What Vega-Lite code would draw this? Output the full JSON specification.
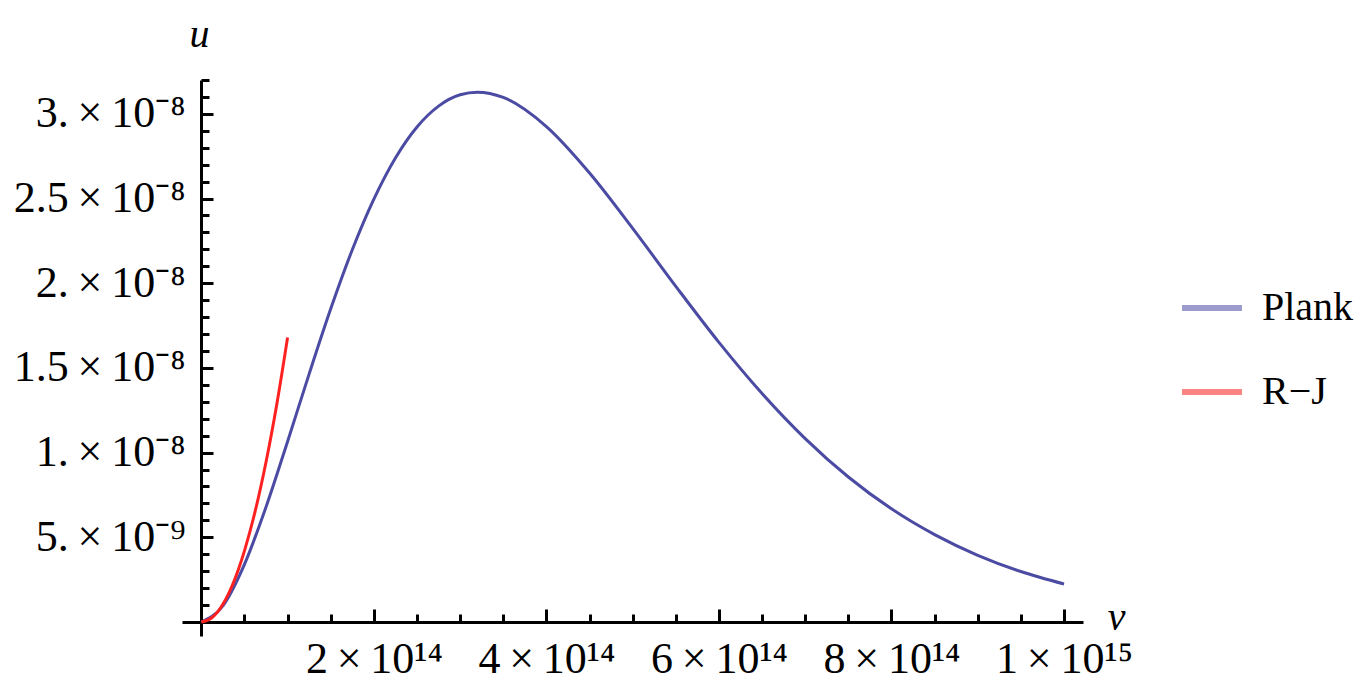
{
  "$schema": "https://vega.github.io/schema/vega-lite/v6.json",
  "autosize": {"type": "none"},
  "padding": {"left": 182, "top": 80, "right": 277, "bottom": 58},
  "width": 901,
  "height": 556,
  "config": {
    "view": {"stroke": null},
    "font": "Liberation Serif"
  },
  "data": {
    "values": [
      {"nu": 0, "u": 0, "series": "Plank"},
      {"nu": 0.25e14, "u": 9.55e-10, "series": "Plank"},
      {"nu": 0.5e14, "u": 3.40e-9, "series": "Plank"},
      {"nu": 0.75e14, "u": 6.79e-9, "series": "Plank"},
      {"nu": 1.0e14, "u": 1.066e-8, "series": "Plank"},
      {"nu": 1.25e14, "u": 1.465e-8, "series": "Plank"},
      {"nu": 1.5e14, "u": 1.849e-8, "series": "Plank"},
      {"nu": 1.75e14, "u": 2.198e-8, "series": "Plank"},
      {"nu": 2.0e14, "u": 2.497e-8, "series": "Plank"},
      {"nu": 2.25e14, "u": 2.740e-8, "series": "Plank"},
      {"nu": 2.5e14, "u": 2.923e-8, "series": "Plank"},
      {"nu": 2.75e14, "u": 3.046e-8, "series": "Plank"},
      {"nu": 3.0e14, "u": 3.113e-8, "series": "Plank"},
      {"nu": 3.2e14, "u": 3.128e-8, "series": "Plank"},
      {"nu": 3.5e14, "u": 3.097e-8, "series": "Plank"},
      {"nu": 4.0e14, "u": 2.925e-8, "series": "Plank"},
      {"nu": 4.5e14, "u": 2.651e-8, "series": "Plank"},
      {"nu": 5.0e14, "u": 2.324e-8, "series": "Plank"},
      {"nu": 5.5e14, "u": 1.982e-8, "series": "Plank"},
      {"nu": 6.0e14, "u": 1.651e-8, "series": "Plank"},
      {"nu": 6.5e14, "u": 1.349e-8, "series": "Plank"},
      {"nu": 7.0e14, "u": 1.083e-8, "series": "Plank"},
      {"nu": 7.5e14, "u": 8.56e-9, "series": "Plank"},
      {"nu": 8.0e14, "u": 6.68e-9, "series": "Plank"},
      {"nu": 8.5e14, "u": 5.16e-9, "series": "Plank"},
      {"nu": 9.0e14, "u": 3.94e-9, "series": "Plank"},
      {"nu": 9.5e14, "u": 2.98e-9, "series": "Plank"},
      {"nu": 1.0e15, "u": 2.24e-9, "series": "Plank"},
      {"nu": 0, "u": 0, "series": "R\u2212J"},
      {"nu": 0.125e14, "u": 2.64e-10, "series": "R\u2212J"},
      {"nu": 0.25e14, "u": 1.05e-9, "series": "R\u2212J"},
      {"nu": 0.375e14, "u": 2.36e-9, "series": "R\u2212J"},
      {"nu": 0.5e14, "u": 4.20e-9, "series": "R\u2212J"},
      {"nu": 0.625e14, "u": 6.56e-9, "series": "R\u2212J"},
      {"nu": 0.75e14, "u": 9.45e-9, "series": "R\u2212J"},
      {"nu": 0.875e14, "u": 1.286e-8, "series": "R\u2212J"},
      {"nu": 1.0e14, "u": 1.68e-8, "series": "R\u2212J"}
    ]
  },
  "mark": {"type": "line", "strokeWidth": 3, "interpolate": "monotone", "clip": true},
  "encoding": {
    "x": {
      "field": "nu", "type": "quantitative",
      "scale": {"domain": [-0.224e14, 10.22e14], "nice": false, "zero": false},
      "axis": {
        "orient": "bottom",
        "offset": -14,
        "grid": false,
        "values": [0.5e14, 1e14, 1.5e14, 2e14, 2.5e14, 3e14, 3.5e14, 4e14, 4.5e14, 5e14, 5.5e14, 6e14, 6.5e14, 7e14, 7.5e14, 8e14, 8.5e14, 9e14, 9.5e14, 1e15],
        "labelExpr": "abs(datum.value-2e14)<1e10 ? '2\u2009\u00d7\u200910\u00b9\u2074' : abs(datum.value-4e14)<1e10 ? '4\u2009\u00d7\u200910\u00b9\u2074' : abs(datum.value-6e14)<1e10 ? '6\u2009\u00d7\u200910\u00b9\u2074' : abs(datum.value-8e14)<1e10 ? '8\u2009\u00d7\u200910\u00b9\u2074' : abs(datum.value-1e15)<1e10 ? '1\u2009\u00d7\u200910\u00b9\u2075' : ''",
        "labelFont": "Liberation Serif",
        "labelFontSize": 44,
        "labelColor": "#000000",
        "labelPadding": 28,
        "labelOverlap": false,
        "labelFlush": false,
        "domainColor": "#000000",
        "domainWidth": 3,
        "tickColor": "#000000",
        "tickWidth": 3,
        "tickSize": {"condition": {"test": "abs(datum.value/2e14 - round(datum.value/2e14)) < 0.01", "value": -13}, "value": -8},
        "title": "\u03bd",
        "titleFont": "Liberation Serif",
        "titleFontStyle": "italic",
        "titleFontWeight": "normal",
        "titleFontSize": 40,
        "titleColor": "#000000",
        "titleAngle": 0,
        "titleAlign": "center",
        "titleBaseline": "alphabetic",
        "titleX": 934,
        "titleY": 7
      }
    },
    "y": {
      "field": "u", "type": "quantitative",
      "scale": {"domain": [-0.0827e-8, 3.2e-8], "nice": false, "zero": false},
      "axis": {
        "orient": "left",
        "offset": -19,
        "grid": false,
        "values": [1e-9, 2e-9, 3e-9, 4e-9, 5e-9, 6e-9, 7e-9, 8e-9, 9e-9, 1e-8, 1.1e-8, 1.2e-8, 1.3e-8, 1.4e-8, 1.5e-8, 1.6e-8, 1.7e-8, 1.8e-8, 1.9e-8, 2e-8, 2.1e-8, 2.2e-8, 2.3e-8, 2.4e-8, 2.5e-8, 2.6e-8, 2.7e-8, 2.8e-8, 2.9e-8, 3e-8, 3.1e-8, 3.2e-8],
        "labelExpr": "abs(datum.value-5e-9)<1e-13 ? '5.\u2009\u00d7\u200910\u207b\u2079' : abs(datum.value-1e-8)<1e-13 ? '1.\u2009\u00d7\u200910\u207b\u2078' : abs(datum.value-1.5e-8)<1e-13 ? '1.5\u2009\u00d7\u200910\u207b\u2078' : abs(datum.value-2e-8)<1e-13 ? '2.\u2009\u00d7\u200910\u207b\u2078' : abs(datum.value-2.5e-8)<1e-13 ? '2.5\u2009\u00d7\u200910\u207b\u2078' : abs(datum.value-3e-8)<1e-13 ? '3.\u2009\u00d7\u200910\u207b\u2078' : ''",
        "labelFont": "Liberation Serif",
        "labelFontSize": 44,
        "labelColor": "#000000",
        "labelPadding": 28,
        "labelOverlap": false,
        "labelFlush": false,
        "labelBaseline": "middle",
        "domainColor": "#000000",
        "domainWidth": 3,
        "tickColor": "#000000",
        "tickWidth": 3,
        "tickSize": {"condition": {"test": "abs(datum.value/5e-9 - round(datum.value/5e-9)) < 0.01", "value": -12}, "value": -8},
        "title": "u",
        "titleFont": "Liberation Serif",
        "titleFontStyle": "italic",
        "titleFontWeight": "normal",
        "titleFontSize": 40,
        "titleColor": "#000000",
        "titleAngle": 0,
        "titleAlign": "center",
        "titleBaseline": "alphabetic",
        "titleX": -2,
        "titleY": -34
      }
    },
    "color": {
      "field": "series", "type": "nominal",
      "scale": {"domain": ["Plank", "R\u2212J"], "range": ["#4b4ba3", "#ff2020"]},
      "legend": {
        "title": null,
        "orient": "none",
        "legendX": 997,
        "legendY": 195,
        "symbolType": "stroke",
        "symbolSize": 3600,
        "symbolStrokeWidth": 6,
        "symbolOpacity": 0.55,
        "labelFont": "Liberation Serif",
        "labelFontSize": 40,
        "labelColor": "#000000",
        "labelOffset": 17,
        "rowPadding": 31
      }
    }
  }
}
